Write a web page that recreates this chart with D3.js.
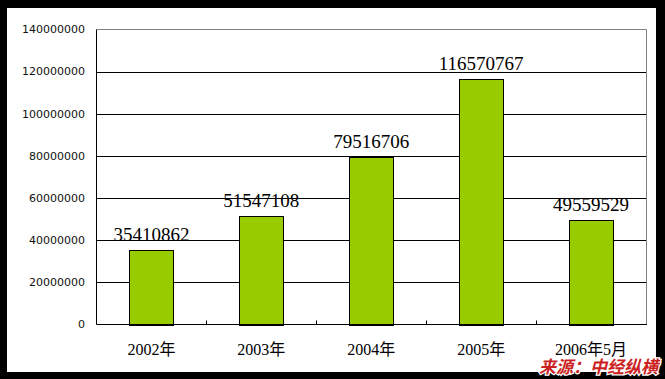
<!DOCTYPE html>
<html>
<head>
<meta charset="utf-8">
<script src="https://cdn.jsdelivr.net/npm/d3@7"></script>
<style>
  body { margin: 0; background: #000; }
  svg { display: block; }
</style>
</head>
<body>
<svg id="chart" width="665" height="379"></svg>
<script>
// data
var years = ["2002年", "2003年", "2004年", "2005年", "2006年5月"]
var amounts = [35410862, 51547108, 79516706, 116570767, 49559529]
var yTicks = [0, 20000000, 40000000, 60000000, 80000000, 100000000, 120000000, 140000000]
var sourceText = "来源：中经纵横"

var svg = d3.select("#chart")

// black frame with white card
svg.append("rect").attr("width", 665).attr("height", 379).attr("fill", "#000")
svg.append("rect")
    .attr("x", 7).attr("y", 8)
    .attr("width", 649).attr("height", 364)
    .attr("fill", "#fff")

// plot box (note: "top" is reserved on window, so use other names)
var pLeft = 96.5, pRight = 646, pTop = 29.5, pBottom = 324.5

var x = d3.scaleBand()
    .domain(years)
    .range([pLeft, pRight])
    .paddingInner(0.6)
    .paddingOuter(0.3)

var xOuter = d3.scaleBand().domain(years).range([pLeft, pRight])

var y = d3.scaleLinear()
    .domain([0, 140000000])
    .range([pBottom, pTop])

// gridlines
svg.append("g")
    .selectAll("line")
    .data(yTicks.filter(function (d) { return d > 0 && d < 140000000 }))
    .join("line")
    .attr("x1", pLeft).attr("x2", pRight)
    .attr("y1", function (d) { return Math.round(y(d)) + 0.5 })
    .attr("y2", function (d) { return Math.round(y(d)) + 0.5 })
    .attr("stroke", "#000")
    .attr("stroke-width", 1)

// gray border top / right
svg.append("path")
    .attr("d", "M" + pLeft + "," + pTop + "H" + (pRight + 0.5) + "V" + pBottom)
    .attr("fill", "none")
    .attr("stroke", "#808080")

// y axis labels
svg.append("g")
    .selectAll("text")
    .data(yTicks)
    .join("text")
    .attr("x", 85)
    .attr("y", function (d) { return y(d) })
    .attr("dy", "0.35em")
    .attr("text-anchor", "end")
    .attr("font-family", "DejaVu Sans, sans-serif")
    .attr("font-size", "11px")
    .attr("fill", "#111")
    .text(function (d) { return d })

// bars
svg.append("g")
    .selectAll("rect")
    .data(amounts)
    .join("rect")
    .attr("x", function (d, i) { return Math.round(x(years[i])) + 0.5 })
    .attr("y", function (d) { return Math.round(y(d)) + 0.5 })
    .attr("width", Math.round(x.bandwidth()))
    .attr("height", function (d) { return Math.round(pBottom) - Math.round(y(d)) })
    .attr("fill", "#99CC00")
    .attr("stroke", "#000")
    .attr("stroke-width", 1)

// value labels
svg.append("g")
    .selectAll("text")
    .data(amounts)
    .join("text")
    .attr("x", function (d, i) { return x(years[i]) + x.bandwidth() / 2 })
    .attr("y", function (d) { return y(d) - 9 })
    .attr("text-anchor", "middle")
    .attr("font-family", "Liberation Serif, serif")
    .attr("font-size", "19px")
    .attr("fill", "#000")
    .text(function (d) { return d })

// axes lines
svg.append("line")
    .attr("x1", pLeft).attr("x2", pLeft)
    .attr("y1", pTop).attr("y2", pBottom)
    .attr("stroke", "#000")
svg.append("line")
    .attr("x1", pLeft).attr("x2", pRight + 1)
    .attr("y1", pBottom).attr("y2", pBottom)
    .attr("stroke", "#000")

// x category tick marks (inside, at boundaries)
svg.append("g")
    .selectAll("line")
    .data(years.slice(1))
    .join("line")
    .attr("x1", function (d) { return Math.round(xOuter(d)) + 0.5 })
    .attr("x2", function (d) { return Math.round(xOuter(d)) + 0.5 })
    .attr("y1", pBottom).attr("y2", pBottom - 4)
    .attr("stroke", "#000")

// x labels
svg.append("g")
    .selectAll("text")
    .data(years)
    .join("text")
    .attr("x", function (d) { return x(d) + x.bandwidth() / 2 })
    .attr("y", 355)
    .attr("text-anchor", "middle")
    .attr("font-family", "Liberation Serif, 'Noto Sans CJK SC', serif")
    .attr("font-size", "16px")
    .attr("fill", "#000")
    .text(function (d) { return d })

// source note
svg.append("text")
    .attr("x", 658)
    .attr("y", 373)
    .attr("text-anchor", "end")
    .attr("font-family", "'Noto Sans CJK SC', sans-serif")
    .attr("font-size", "17px")
    .attr("font-weight", "bold")
    .attr("font-style", "italic")
    .attr("fill", "#cc1f1f")
    .attr("stroke", "#fff")
    .attr("stroke-width", 2.5)
    .attr("paint-order", "stroke")
    .text(sourceText)
</script>
</body>
</html>
